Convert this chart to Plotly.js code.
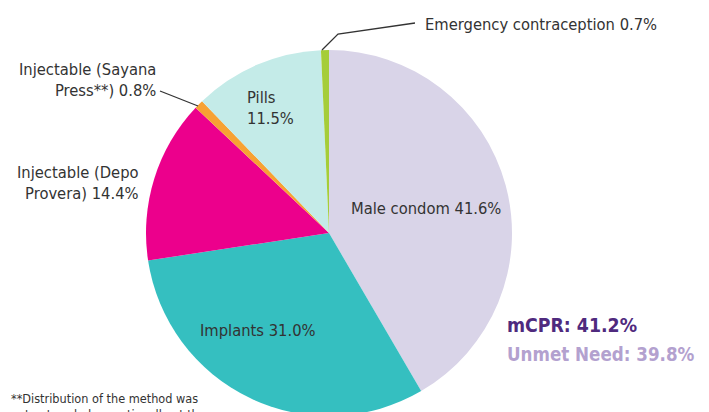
<!DOCTYPE html>
<html>
<head>
<meta charset="utf-8">
<script src="https://cdn.plot.ly/plotly-3.0.1.min.js"></script>
<style>
html,body{margin:0;padding:0;overflow:hidden;background:#fff;width:709px;height:412px;}
#chart{width:709px;height:450px;}
</style>
</head>
<body>
<div id="chart"></div>
<script>
// Data
const methods = ["Male condom", "Implants", "Injectable (Depo Provera)", "Injectable (Sayana Press**)", "Pills", "Emergency contraception"];
const shares = [41.6, 31.0, 14.4, 0.8, 11.5, 0.7];
const sliceColors = ["#d9d4e8", "#35bfc0", "#ec008c", "#f7a133", "#c4ebe8", "#a5cd39"];
const labelLines = [
  ["Male condom"],
  ["Implants"],
  ["Injectable (Depo", "Provera)"],
  ["Injectable (Sayana", "Press**)"],
  ["Pills", ""],
  ["Emergency contraception"]
];
const summaryLabels = ["mCPR", "Unmet Need"];
const summaryValues = [41.2, 39.8];
const footnote = ["**Distribution of the method was", "not yet scaled up nationally at the"];

const W = 709, H = 450;
const FONT = "'DejaVu Sans Condensed', 'Liberation Sans Narrow', sans-serif";
const px = x => x / W;
const py = y => (H - y) / H;

function labelText(i) {
  const lines = labelLines[i].slice();
  const pct = shares[i].toFixed(1) + "%";
  if (lines[lines.length - 1] === "") lines[lines.length - 1] = pct;
  else lines[lines.length - 1] = lines[lines.length - 1] + " " + pct;
  return lines.join("<br>");
}

// pie placement (pixel geometry)
const cx = 329, cy = 233, r = 183;

const trace = {
  type: "pie",
  values: shares,
  labels: methods,
  sort: false,
  direction: "clockwise",
  rotation: 0,
  textinfo: "none",
  hoverinfo: "label+value",
  marker: {colors: sliceColors, line: {width: 0}},
  domain: {x: [px(cx - r), px(cx + r)], y: [py(cy + r), py(cy - r)]},
  showlegend: false
};

const txtFont = {family: FONT, size: 16.4, color: "#333333"};
const labelPos = [
  {x: 426, y: 208, xanchor: "center", align: "center"},
  {x: 258, y: 330, xanchor: "center", align: "center"},
  {x: 141, y: 183, xanchor: "right", align: "right"},
  {x: 158, y: 80, xanchor: "right", align: "right"},
  {x: 245, y: 108, xanchor: "left", align: "left"},
  {x: 423, y: 24, xanchor: "left", align: "left"}
];

const annotations = labelPos.map((p, i) => ({
  xref: "paper", yref: "paper", x: px(p.x), y: py(p.y),
  xanchor: p.xanchor, yanchor: "middle", align: p.align,
  text: labelText(i), showarrow: false, font: txtFont
}));

annotations.push({
  xref: "paper", yref: "paper", x: px(505), y: py(325), xanchor: "left", yanchor: "middle",
  text: "<b>" + summaryLabels[0] + ": " + summaryValues[0].toFixed(1) + "%</b>", showarrow: false,
  font: {family: FONT, size: 19.3, color: "#4f2a7e"}
});
annotations.push({
  xref: "paper", yref: "paper", x: px(505), y: py(354), xanchor: "left", yanchor: "middle",
  text: "<b>" + summaryLabels[1] + ": " + summaryValues[1].toFixed(1) + "%</b>", showarrow: false,
  font: {family: FONT, size: 18.6, color: "#b3a1cf"}
});
annotations.push({
  xref: "paper", yref: "paper", x: px(9), y: py(389), xanchor: "left", yanchor: "top",
  text: footnote.join("<br>"), showarrow: false, align: "left",
  font: {family: FONT, size: 12.6, color: "#333333"}
});

const shapes = [
  {type: "path", xref: "paper", yref: "paper",
   path: "M " + px(322) + " " + py(50) + " L " + px(338) + " " + py(34) + " L " + px(415) + " " + py(23),
   line: {color: "#333333", width: 1.3}},
  {type: "line", xref: "paper", yref: "paper",
   x0: px(160), y0: py(91), x1: px(198), y1: py(106),
   line: {color: "#333333", width: 1.3}}
];

const layout = {
  width: W, height: H,
  margin: {l: 0, r: 0, t: 0, b: 0},
  paper_bgcolor: "#ffffff",
  plot_bgcolor: "#ffffff",
  showlegend: false,
  annotations: annotations,
  shapes: shapes
};

Plotly.newPlot("chart", [trace], layout, {displayModeBar: false, staticPlot: true});
</script>
</body>
</html>
